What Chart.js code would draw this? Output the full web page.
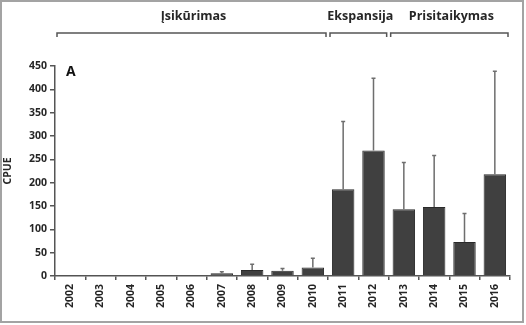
<!DOCTYPE html>
<html lang="lt">
<head>
    <meta charset="UTF-8">
    <title>CPUE</title>
    <style>
        body { margin: 0; background: #ffffff; }
        #wrap { width: 526px; height: 325px; position: relative; }
    </style>
    <script src="https://cdn.jsdelivr.net/npm/chart.js@4.4.0/dist/chart.umd.min.js"></script>
</head>
<body>
<div id="wrap"><canvas id="cpueChart" width="526" height="325"></canvas></div>
<script>
    const years = ['2002', '2003', '2004', '2005', '2006', '2007', '2008', '2009', '2010', '2011', '2012', '2013', '2014', '2015', '2016'];
    const cpue = [1, 1, 1, 1, 1, 6, 13, 11, 18, 186, 269, 143, 148, 73, 218];
    const cpueSd = [0, 0, 0, 0, 0, 3, 12, 5, 20, 145, 155, 100, 110, 61, 221];
    const yTicks = [0, 50, 100, 150, 200, 250, 300, 350, 400, 450];

    // periods: label, first index, last index
    const phaseNames = ['Įsikūrimas', 'Ekspansija', 'Prisitaikymas'];
    const phaseFrom = [0, 9, 11];
    const phaseTo = [8, 10, 14];

    const FONT = '"Open Sans", sans-serif';

    const errorBars = {
        id: 'errorBars',
        afterDatasetsDraw(chart) {
            const ctx = chart.ctx;
            const y = chart.scales.y;
            const meta = chart.getDatasetMeta(0);
            ctx.save();
            ctx.strokeStyle = '#6e6e6e';
            ctx.lineWidth = 1.5;
            meta.data.forEach((bar, i) => {
                if (!cpueSd[i]) return;
                const top = y.getPixelForValue(cpue[i] + cpueSd[i]);
                ctx.beginPath();
                ctx.moveTo(bar.x, bar.y);
                ctx.lineTo(bar.x, top);
                ctx.moveTo(bar.x - 2, top);
                ctx.lineTo(bar.x + 2, top);
                ctx.stroke();
            });
            ctx.restore();
        }
    };

    const decorations = {
        id: 'decorations',
        afterDraw(chart) {
            const ctx = chart.ctx;
            const x = chart.scales.x;
            const step = x.width / years.length;
            ctx.save();

            // outer frame
            ctx.strokeStyle = '#a3a3a3';
            ctx.lineWidth = 2;
            ctx.strokeRect(1, 1, 522, 321);

            // period brackets
            ctx.strokeStyle = '#555555';
            ctx.lineWidth = 1.5;
            ctx.fillStyle = '#262626';
            ctx.font = 'bold 12.5px ' + FONT;
            ctx.textAlign = 'center';
            ctx.textBaseline = 'middle';
            phaseNames.forEach((name, k) => {
                const l = x.getPixelForValue(phaseFrom[k]) - step / 2 + 2;
                const r = x.getPixelForValue(phaseTo[k]) + step / 2 - 2;
                ctx.beginPath();
                ctx.moveTo(l, 37);
                ctx.lineTo(l, 33);
                ctx.lineTo(r, 33);
                ctx.lineTo(r, 37);
                ctx.stroke();
                ctx.fillText(name, (l + r) / 2 + 2, 16);
            });

            // panel letter
            ctx.font = 'bold 14px ' + FONT;
            ctx.textAlign = 'left';
            ctx.fillStyle = '#111111';
            ctx.fillText('A', 66, 72);
            ctx.restore();
        }
    };

    new Chart(document.getElementById('cpueChart'), {
        type: 'bar',
        data: {
            labels: years,
            datasets: [{
                data: cpue,
                backgroundColor: '#404040',
                borderColor: '#2a2a2a',
                borderWidth: 1,
                barPercentage: 0.74,
                categoryPercentage: 1
            }]
        },
        options: {
            responsive: false,
            animation: false,
            layout: { padding: { top: 66, right: 16, bottom: 0, left: 0 } },
            plugins: { legend: { display: false }, tooltip: { enabled: false } },
            scales: {
                x: {
                    afterFit(s) { s.height = 49; },
                    border: { color: '#555555', width: 1.5 },
                    grid: { display: true, drawOnChartArea: false, offset: true, tickLength: 4, color: '#555555', lineWidth: 1.5 },
                    ticks: {
                        minRotation: 90, maxRotation: 90, padding: 4,
                        color: '#262626',
                        font: { family: FONT, size: 10.5, weight: 'bold' }
                    }
                },
                y: {
                    min: 0, max: 450,
                    afterFit(s) { s.width = 55; },
                    afterBuildTicks(s) { s.ticks = yTicks.map(v => ({ value: v })); },
                    border: { color: '#555555', width: 1.5 },
                    grid: { display: true, drawOnChartArea: false, tickLength: 5, color: '#555555', lineWidth: 1.5 },
                    ticks: {
                        padding: 3,
                        color: '#262626',
                        font: { family: FONT, size: 10.5, weight: 'bold' }
                    },
                    title: {
                        display: true, text: 'CPUE', padding: { top: 2, bottom: 0 },
                        color: '#262626',
                        font: { family: FONT, size: 10.5, weight: 'bold' }
                    }
                }
            }
        },
        plugins: [errorBars, decorations]
    });
</script>
</body>
</html>
